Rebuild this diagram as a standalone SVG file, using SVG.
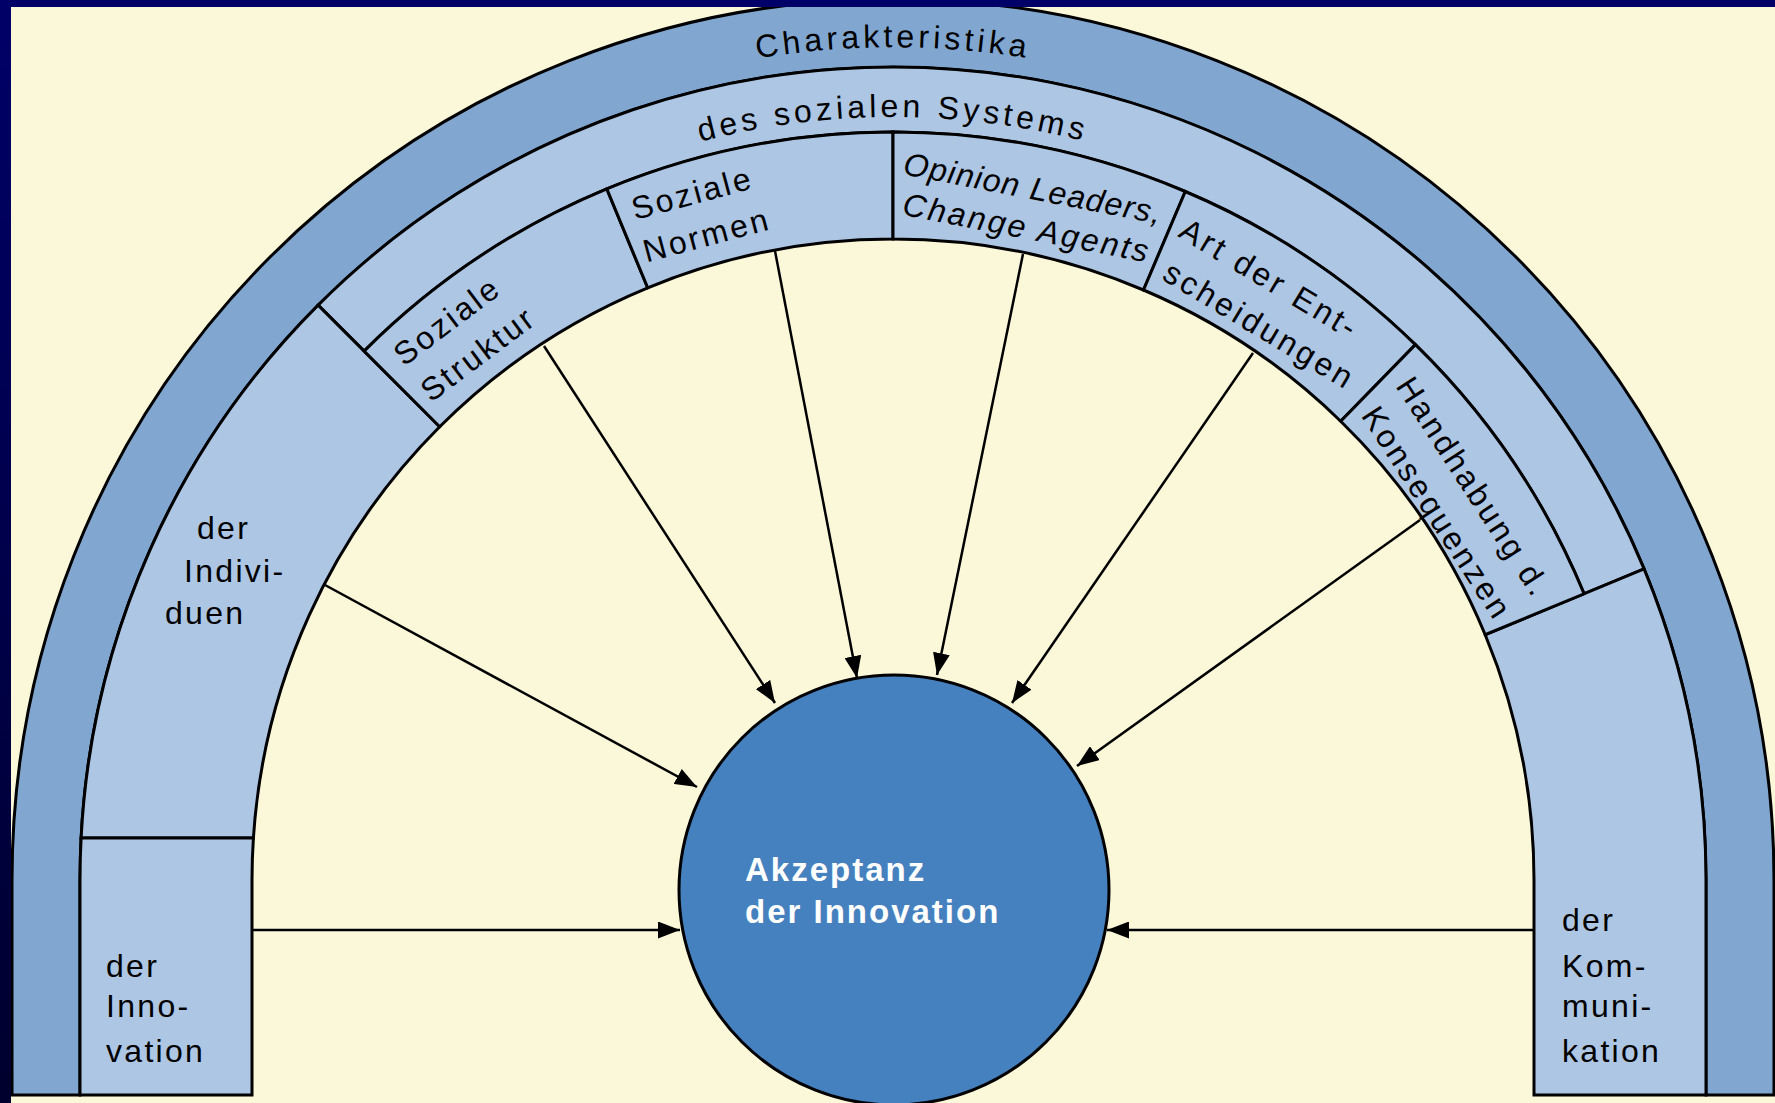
<svg xmlns="http://www.w3.org/2000/svg" width="1775" height="1103" viewBox="0 0 1775 1103">
  <defs>
    <style>
      .dark { fill: #81A7D1; stroke: #000; stroke-width: 3; stroke-linejoin: miter; }
      .light { fill: #ADC6E3; stroke: #000; stroke-width: 3; stroke-linejoin: miter; }
      .lbl { font-family: "Liberation Sans", Arial, sans-serif; font-size: 32px; fill: #000; letter-spacing: 2.3px; }
      .seg { font-family: "Liberation Sans", Arial, sans-serif; font-size: 32px; fill: #000; letter-spacing: 2.8px; }
      .arc { font-family: "Liberation Sans", Arial, sans-serif; font-size: 32px; fill: #000; letter-spacing: 4px; }
      .core { fill: #4581BF; stroke: #000; stroke-width: 3; }
      .coretxt { font-family: "Liberation Sans", Arial, sans-serif; font-size: 33px; font-weight: bold; fill: #fff; letter-spacing: 2px; }
      .conn { stroke: #000; stroke-width: 2.5; fill: none; marker-end: url(#ah); }
    </style>
    <marker id="ah" markerWidth="22" markerHeight="17" refX="22" refY="8.5" orient="auto" markerUnits="userSpaceOnUse">
      <path d="M0,0 L22,8.5 L0,17 Z" fill="#000"/>
    </marker>
    <linearGradient id="navyL" x1="0" y1="0" x2="0" y2="1">
      <stop offset="0" stop-color="#000068"/>
      <stop offset="1" stop-color="#00002E"/>
    </linearGradient>
    <path id="p1" d="M 60,880 A 833 833 0 0 1 1726,880"/>
    <path id="p2" d="M 130,880 A 763 763 0 0 1 1656,880"/>
  </defs>

  <rect x="0" y="0" width="1775" height="1103" fill="#FAF8D8"/>

  <g id="charakteristika">
    <path class="dark" d="M 12,1095 L 12,880 A 881 881 0 0 1 1774,880 L 1774,1095 L 1706,1095 L 1706,880 A 813 813 0 0 0 80,880 L 80,1095 Z"/>
    <text class="arc"><textPath href="#p1" startOffset="50%" text-anchor="middle">Charakteristika</textPath></text>
  </g>

  <g id="des-sozialen-systems">
    <path class="light" d="M 318.1,305.1 A 813 813 0 0 1 1644.1,568.9 L 1584.1,593.8 A 748 748 0 0 0 364.1,351.1 Z"/>
    <text class="arc"><textPath href="#p2" startOffset="50%" text-anchor="middle">des sozialen Systems</textPath></text>
  </g>

  <g id="der-individuen">
    <path class="light" d="M 81.1,838 A 813 813 0 0 1 318.1,305.1 L 439.7,426.7 A 641 641 0 0 0 253.4,838 Z"/>
    <text class="lbl"><tspan x="197" y="539">der</tspan><tspan x="184" y="582">Indivi-</tspan><tspan x="165" y="624">duen</tspan></text>
  </g>

  <g id="der-innovation">
    <path class="light" d="M 81.1,838 L 253.4,838 A 641 641 0 0 0 252,880 L 252,1095 L 80,1095 L 80,880 A 813 813 0 0 1 81.1,838 Z"/>
    <text class="lbl"><tspan x="106" y="977">der</tspan><tspan x="106" y="1017">Inno-</tspan><tspan x="106" y="1062">vation</tspan></text>
  </g>

  <g id="der-kommunikation">
    <path class="light" d="M 1644.1,568.9 A 813 813 0 0 1 1706,880 L 1706,1095 L 1534,1095 L 1534,880 A 641 641 0 0 0 1485.2,634.7 Z"/>
    <text class="lbl"><tspan x="1562" y="931">der</tspan><tspan x="1562" y="977">Kom-</tspan><tspan x="1562" y="1017">muni-</tspan><tspan x="1562" y="1062">kation</tspan></text>
  </g>

  <g id="soziale-struktur">
    <path class="light" d="M 364.1,351.1 A 748 748 0 0 1 606.8,188.9 L 647.7,287.8 A 641 641 0 0 0 439.7,426.7 Z"/>
    <text class="seg" transform="translate(404,367) rotate(-37)"><tspan x="0" y="0">Soziale</tspan><tspan x="0" y="45">Struktur</tspan></text>
  </g>

  <g id="soziale-normen">
    <path class="light" d="M 606.8,188.9 A 748 748 0 0 1 893,132 L 893,239 A 641 641 0 0 0 647.7,287.8 Z"/>
    <text class="seg" transform="translate(635,220) rotate(-15)"><tspan x="0" y="0">Soziale</tspan><tspan x="0" y="44">Normen</tspan></text>
  </g>

  <g id="opinion-leaders">
    <path class="light" d="M 893,132 A 748 748 0 0 1 1185.3,191.5 L 1143.5,290 A 641 641 0 0 0 893,239 Z"/>
    <text class="seg" font-style="italic" transform="translate(902,174) rotate(11)"><tspan x="0" y="0" style="letter-spacing:1.2px">Opinion Leaders,</tspan><tspan x="7" y="40" style="letter-spacing:2.5px">Change Agents</tspan></text>
  </g>

  <g id="art-der-entscheidungen">
    <path class="light" d="M 1185.3,191.5 A 748 748 0 0 1 1415.4,344.6 L 1340.7,421.2 A 641 641 0 0 0 1143.5,290 Z"/>
    <text class="seg" style="letter-spacing:3.3px" transform="translate(1177,236) rotate(31)"><tspan x="0" y="0">Art der Ent-</tspan><tspan x="8" y="45">scheidungen</tspan></text>
  </g>

  <g id="handhabung-konsequenzen">
    <path class="light" d="M 1415.4,344.6 A 748 748 0 0 1 1584.1,593.8 L 1485.2,634.7 A 641 641 0 0 0 1340.7,421.2 Z"/>
    <text class="seg" transform="translate(1395,386) rotate(57)"><tspan x="0" y="0">Handhabung d.</tspan><tspan x="6" y="45">Konsequenzen</tspan></text>
  </g>

  <g id="akzeptanz">
    <circle class="core" cx="894" cy="890" r="215"/>
    <text class="coretxt"><tspan x="745" y="881">Akzeptanz</tspan><tspan x="745" y="923">der Innovation</tspan></text>
  </g>

  <g id="connectors">
    <line class="conn" x1="325" y1="585" x2="697" y2="787"/>
    <line class="conn" x1="544" y1="346" x2="775" y2="703"/>
    <line class="conn" x1="775" y1="251" x2="857" y2="678"/>
    <line class="conn" x1="1023" y1="254" x2="937" y2="675"/>
    <line class="conn" x1="1253" y1="353" x2="1012" y2="703"/>
    <line class="conn" x1="1420" y1="520" x2="1077" y2="766"/>
    <line class="conn" x1="253" y1="930" x2="680" y2="930"/>
    <line class="conn" x1="1534" y1="930" x2="1107" y2="930"/>
  </g>

  <g id="frame">
    <rect x="0" y="0" width="1775" height="7" fill="#000068"/>
    <rect x="0" y="0" width="11" height="1103" fill="url(#navyL)"/>
  </g>
</svg>
